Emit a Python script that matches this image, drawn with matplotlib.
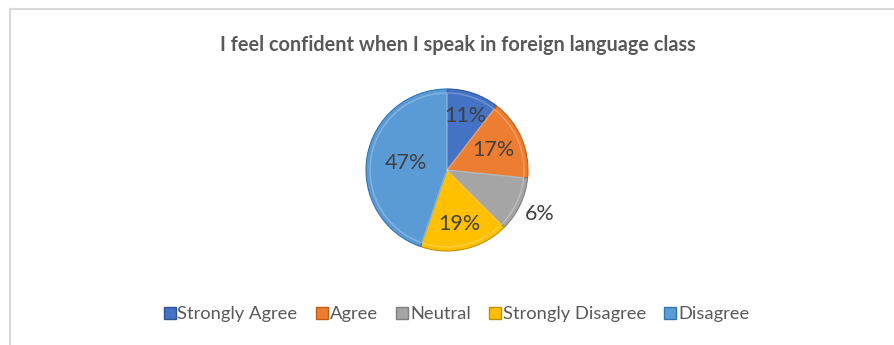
import numpy as np
import matplotlib.pyplot as plt
from matplotlib.lines import Line2D

# categories and values
categorias = ['Strongly Agree', 'Agree', 'Neutral', 'Strongly Disagree', 'Disagree']
rotulos = ['11%', '17%', '6%', '19%', '47%']
# slice sizes as drawn in the picture (the grey slice is wider than its label)
fatias = [10.5, 16.1, 10.9, 17.8, 44.7]
cores = ['#4472C4', '#ED7D31', '#A5A5A5', '#FFC000', '#5B9BD5']
bordas = ['#2F5597', '#C55A11', '#7F7F7F', '#BF9000', '#2E75B6']
dist_rotulo = [0.70, 0.63, 1.27, 0.69, 0.52]

plt.rcParams['font.family'] = ['Lato', 'DejaVu Sans']

fig = plt.figure(figsize=(8.95, 3.45), dpi=100)
W, H = 895, 345

# moldura do grafico (so esquerda e topo aparecem)
fig.add_artist(Line2D([10 / W, 10 / W], [0, 1 - 9 / H], color='#D9D9D9', lw=1.5))
fig.add_artist(Line2D([10 / W, 1], [1 - 9 / H, 1 - 9 / H], color='#D9D9D9', lw=1.5))

cx, cy, r = 447, 170, 81
ax = fig.add_axes([(cx - r) / W, (H - cy - r) / H, 2 * r / W, 2 * r / H])
wedges, _ = ax.pie(fatias, colors=cores, startangle=90, counterclock=False,
                   wedgeprops=dict(linewidth=1.0, edgecolor='white'))
for w, b in zip(wedges, bordas):
    w.set_edgecolor(b)
    w.set_linewidth(0.8)

# leve efeito de chanfro: anel claro por dentro da borda
ax.pie(fatias, colors=['none'] * 5, startangle=90, counterclock=False, radius=0.95,
       wedgeprops=dict(linewidth=1.0, edgecolor=(1, 1, 1, 0.25), fill=False))

for w, txt, d in zip(wedges, rotulos, dist_rotulo):
    ang = np.deg2rad((w.theta1 + w.theta2) / 2)
    ax.text(d * np.cos(ang), d * np.sin(ang), txt, ha='center', va='center',
            fontsize=15.5, color='#404040')
ax.set_xlim(-1, 1)
ax.set_ylim(-1, 1)
ax.axis('off')

fig.text(458 / W, 1 - 45 / H, 'I feel confident when I speak in foreign language class',
         ha='center', va='center', fontsize=14.3, fontweight='bold', color='#595959')

handles = [Line2D([], [], marker='s', ls='', markersize=8, markerfacecolor=c,
                  markeredgecolor=b, label=n) for c, b, n in zip(cores, bordas, categorias)]
fig.legend(handles=handles, loc='center', bbox_to_anchor=(457 / W, 1 - 314 / H), ncol=5,
           frameon=False, fontsize=13.2, handlelength=0.55, handletextpad=0.15,
           columnspacing=1.05, labelcolor='#595959')

fig.savefig('out.png', dpi=100)
